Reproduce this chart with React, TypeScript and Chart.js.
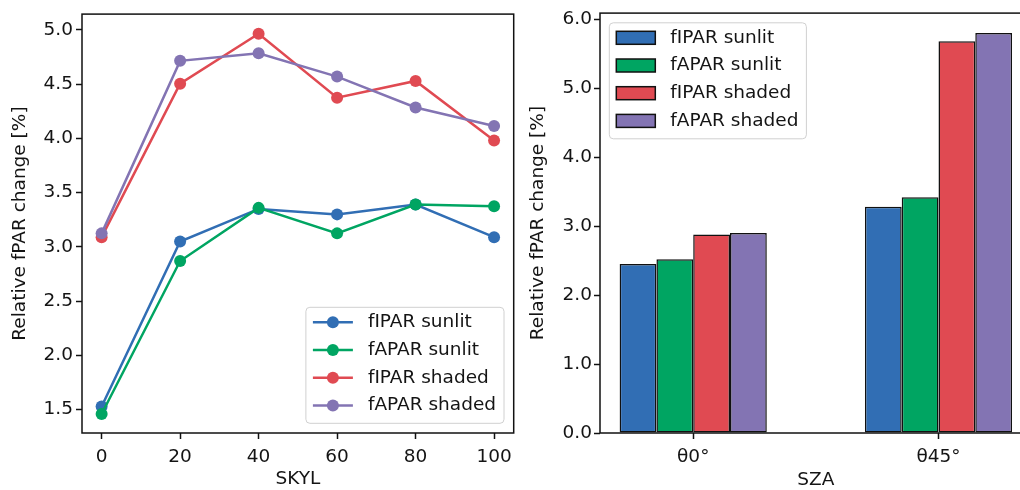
import React, { useEffect, useRef } from "react";
import { Chart, registerables } from "chart.js";

Chart.register(...registerables);

// ---------- data ----------
const seriesNames = ["fIPAR sunlit", "fAPAR sunlit", "fIPAR shaded", "fAPAR shaded"];
const seriesColors = ["#316eb4", "#00a562", "#e04a52", "#8374b3"];

const skyl = [0, 20, 40, 60, 80, 100];
const fiparSunlit = [1.53, 3.05, 3.35, 3.3, 3.39, 3.09];
const faparSunlit = [1.46, 2.87, 3.36, 3.125, 3.39, 3.375];
const fiparShaded = [3.09, 4.505, 4.965, 4.375, 4.53, 3.98];
const faparShaded = [3.125, 4.715, 4.785, 4.57, 4.285, 4.115];

const szaLabels = ["θ0°", "θ45°"];
const szaPos = [0, 1];
const barFiparSunlit = [2.45, 3.28];
const barFaparSunlit = [2.52, 3.42];
const barFiparShaded = [2.88, 5.68];
const barFaparShaded = [2.9, 5.8];

const leftXTicks = [0, 20, 40, 60, 80, 100];
const leftYTicks = [1.5, 2.0, 2.5, 3.0, 3.5, 4.0, 4.5, 5.0];
const rightYTicks = [0, 1, 2, 3, 4, 5, 6];

const yTitle = "Relative fPAR change [%]";

// ---------- style ----------
const FONT = "'DejaVu Sans', sans-serif";
const FS = 18.5;
const TEXT = "#141414";
const AXIS = "#111111";

const framePlugin = {
  id: "frame",
  afterDatasetsDraw(chart: any) {
    const { ctx, chartArea: a } = chart;
    ctx.save();
    ctx.strokeStyle = AXIS;
    ctx.lineWidth = 1.5;
    ctx.strokeRect(a.left, a.top, a.right - a.left, a.bottom - a.top);
    ctx.restore();
  },
};

const legendPlugin = {
  id: "boxLegend",
  afterDraw(chart: any, _args: any, opts: any) {
    if (!opts || !opts.corner) return;
    const { ctx, chartArea: a } = chart;
    const labels: string[] = chart.data.datasets.map((d: any) => d.label);
    ctx.save();
    ctx.font = `${FS}px ${FONT}`;
    const textW = Math.max(...labels.map((l) => ctx.measureText(l).width));
    const padL = 7;
    const handleW = opts.kind === "line" ? 40 : 39;
    const gap = 15;
    const padR = 8;
    const w = padL + handleW + gap + textW + padR;
    const h = 116;
    const x = opts.corner === "lr" ? a.right - 9.7 - w : a.left + 9.3;
    const y = opts.corner === "lr" ? a.bottom - 9.7 - h : a.top + 9.7;
    const r = 4;
    ctx.beginPath();
    ctx.moveTo(x + r, y);
    ctx.lineTo(x + w - r, y);
    ctx.arcTo(x + w, y, x + w, y + r, r);
    ctx.lineTo(x + w, y + h - r);
    ctx.arcTo(x + w, y + h, x + w - r, y + h, r);
    ctx.lineTo(x + r, y + h);
    ctx.arcTo(x, y + h, x, y + h - r, r);
    ctx.lineTo(x, y + r);
    ctx.arcTo(x, y, x + r, y, r);
    ctx.closePath();
    ctx.fillStyle = "rgba(255,255,255,0.85)";
    ctx.fill();
    ctx.strokeStyle = "#d0d0d0";
    ctx.lineWidth = 1;
    ctx.stroke();
    labels.forEach((label, i) => {
      const cy = y + 15 + i * 27.7;
      const color = opts.colors[i];
      const hx = x + padL;
      if (opts.kind === "line") {
        ctx.strokeStyle = color;
        ctx.lineWidth = 2.5;
        ctx.beginPath();
        ctx.moveTo(hx, cy);
        ctx.lineTo(hx + handleW, cy);
        ctx.stroke();
        ctx.fillStyle = color;
        ctx.beginPath();
        ctx.arc(hx + handleW / 2, cy, 6, 0, Math.PI * 2);
        ctx.fill();
      } else {
        ctx.fillStyle = color;
        ctx.fillRect(hx, cy - 6.5, handleW, 13);
        ctx.strokeStyle = AXIS;
        ctx.lineWidth = 1.5;
        ctx.strokeRect(hx, cy - 6.5, handleW, 13);
      }
      ctx.fillStyle = TEXT;
      ctx.textAlign = "left";
      ctx.textBaseline = "middle";
      ctx.fillText(label, hx + handleW + gap, cy);
    });
    ctx.restore();
  },
};

const tickGrid = {
  display: true,
  offset: false,
  drawOnChartArea: false,
  drawTicks: true,
  tickLength: 6,
  tickWidth: 1.5,
  tickColor: AXIS,
};

const font = { family: FONT, size: FS };

function LineChart() {
  const ref = useRef<HTMLCanvasElement>(null);
  useEffect(() => {
    const series = [fiparSunlit, faparSunlit, fiparShaded, faparShaded];
    const chart = new Chart(ref.current as HTMLCanvasElement, {
      type: "line",
      data: {
        datasets: series.map((vals, i) => ({
          label: seriesNames[i],
          data: skyl.map((x, j) => ({ x, y: vals[j] })),
          borderColor: seriesColors[i],
          backgroundColor: seriesColors[i],
          pointBackgroundColor: seriesColors[i],
          pointBorderWidth: 0,
          pointRadius: 6,
          borderWidth: 2.5,
          fill: false,
          tension: 0,
          order: 3 - i,
        })),
      },
      options: {
        responsive: false,
        animation: false,
        events: [],
        layout: { padding: { left: 0, top: 13, right: 6.3, bottom: 0 } },
        plugins: {
          legend: { display: false },
          tooltip: { enabled: false },
          boxLegend: { corner: "lr", kind: "line", colors: seriesColors },
        } as any,
        scales: {
          x: {
            type: "linear",
            min: -5,
            max: 105,
            afterBuildTicks: (s: any) => {
              s.ticks = leftXTicks.map((v) => ({ value: v }));
            },
            afterFit: (s: any) => {
              s.height = 57;
            },
            grid: tickGrid,
            border: { display: false },
            ticks: {
              padding: 7,
              color: TEXT,
              font,
              maxRotation: 0,
              autoSkip: false,
              callback: (v: any) => String(v),
            },
            title: { display: true, text: "SKYL", color: TEXT, font, padding: { top: 0, bottom: 0 } },
          },
          y: {
            type: "linear",
            min: 1.285,
            max: 5.146,
            afterBuildTicks: (s: any) => {
              s.ticks = leftYTicks.map((v) => ({ value: v }));
            },
            afterFit: (s: any) => {
              s.width = 82;
            },
            grid: tickGrid,
            border: { display: false },
            ticks: {
              padding: 3,
              color: TEXT,
              font,
              autoSkip: false,
              callback: (v: any) => Number(v).toFixed(1),
            },
            title: { display: true, text: yTitle, color: TEXT, font, padding: { top: 9, bottom: 0 } },
          },
        },
      } as any,
      plugins: [framePlugin, legendPlugin],
    });
    return () => chart.destroy();
  }, []);
  return (
    <canvas
      ref={ref}
      width={520}
      height={490}
      style={{ position: "absolute", left: 0, top: 0, width: 520, height: 490 }}
    />
  );
}

function BarChart() {
  const ref = useRef<HTMLCanvasElement>(null);
  useEffect(() => {
    const series = [barFiparSunlit, barFaparSunlit, barFiparShaded, barFaparShaded];
    const chart = new Chart(ref.current as HTMLCanvasElement, {
      type: "bar",
      data: {
        datasets: series.map((vals, i) => ({
          label: seriesNames[i],
          data: szaPos.map((x, j) => ({ x, y: vals[j] })),
          backgroundColor: seriesColors[i],
          borderColor: AXIS,
          borderWidth: 1.5,
          borderSkipped: false,
          categoryPercentage: 0.6,
          barPercentage: 1.0,
        })),
      },
      options: {
        responsive: false,
        animation: false,
        events: [],
        layout: { padding: { left: 0, top: 13, right: 8.3, bottom: 0 } },
        plugins: {
          legend: { display: false },
          tooltip: { enabled: false },
          boxLegend: { corner: "ul", kind: "box", colors: seriesColors },
        } as any,
        scales: {
          x: {
            type: "linear",
            min: -0.38,
            max: 1.38,
            offset: false,
            afterBuildTicks: (s: any) => {
              s.ticks = szaPos.map((v) => ({ value: v }));
            },
            afterFit: (s: any) => {
              s.height = 57;
            },
            grid: tickGrid,
            border: { display: false },
            ticks: {
              padding: 7,
              color: TEXT,
              font,
              maxRotation: 0,
              autoSkip: false,
              callback: (v: any) => szaLabels[szaPos.indexOf(Number(v))] ?? "",
            },
            title: { display: true, text: "SZA", color: TEXT, font, padding: { top: 0, bottom: -1 } },
          },
          y: {
            type: "linear",
            min: 0,
            max: 6.09,
            afterBuildTicks: (s: any) => {
              s.ticks = rightYTicks.map((v) => ({ value: v }));
            },
            afterFit: (s: any) => {
              s.width = 80;
            },
            grid: tickGrid,
            border: { display: false },
            ticks: {
              padding: 2,
              color: TEXT,
              font,
              autoSkip: false,
              callback: (v: any) => Number(v).toFixed(1),
            },
            title: { display: true, text: yTitle, color: TEXT, font, padding: { top: 7.2, bottom: 0 } },
          },
        },
      } as any,
      plugins: [framePlugin, legendPlugin],
    });
    return () => chart.destroy();
  }, []);
  return (
    <canvas
      ref={ref}
      width={520}
      height={490}
      style={{ position: "absolute", left: 520, top: 0, width: 520, height: 490 }}
    />
  );
}

export default function App() {
  return (
    <div
      style={{
        position: "fixed",
        left: 0,
        top: 0,
        width: 1020,
        height: 490,
        overflow: "hidden",
        background: "#ffffff",
      }}
    >
      <LineChart />
      <BarChart />
    </div>
  );
}
